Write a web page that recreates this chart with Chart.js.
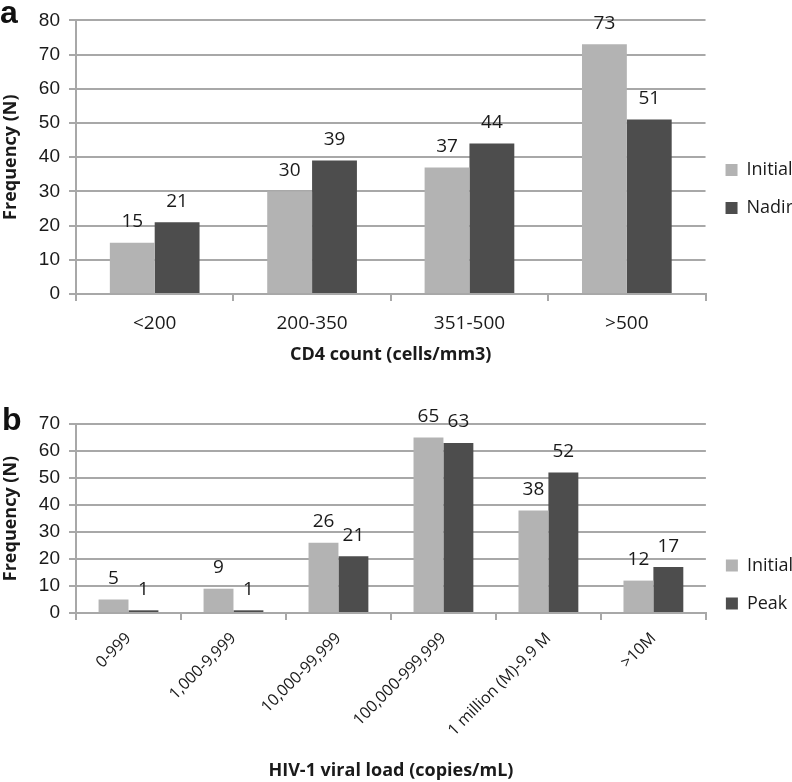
<!DOCTYPE html>
<html>
<head>
<meta charset="utf-8">
<script src="https://cdn.jsdelivr.net/npm/chart.js@4.4.1/dist/chart.umd.min.js"></script>
<style>
  html, body { margin: 0; padding: 0; background: #fff; overflow: hidden; width: 792px; height: 782px; }
  .panel { position: absolute; left: 0; }
  .tag { position: absolute; z-index: 2; font: bold 32px "Liberation Sans", Arial, sans-serif; color: #111; line-height: 32px; }
</style>
</head>
<body>
<canvas id="cd4Chart" class="panel" style="top:0" width="803" height="370"></canvas>
<canvas id="viralChart" class="panel" style="top:395px" width="803" height="387"></canvas>
<div class="tag" style="left:0;top:-4px">a</div>
<div class="tag" style="left:2px;top:403px">b</div>

<script>
// panel a - CD4 count
const cd4Labels = ["<200", "200-350", "351-500", ">500"];
const cd4Initial = [15, 30, 37, 73];
const cd4Nadir = [21, 39, 44, 51];

// panel b - viral load
const vlLabels = ["0-999", "1,000-9,999", "10,000-99,999", "100,000-999,999", "1 million (M)-9.9 M", ">10M"];
const vlInitial = [5, 9, 26, 65, 38, 12];
const vlPeak = [1, 1, 21, 63, 52, 17];

const LIGHT = "#b3b3b3";
const DARK = "#4d4d4d";
const GRID = "#a8a8a8";
const TEXT = "#1a1a1a";
const LABEL_FONT = "Open Sans";

// numbers above each bar
const valueLabels = {
    id: "valueLabels",
    afterDatasetsDraw(chart) {
        const ctx = chart.ctx;
        ctx.save();
        ctx.font = "19px '" + LABEL_FONT + "'";
        ctx.fillStyle = TEXT;
        ctx.textAlign = "center";
        ctx.textBaseline = "middle";
        chart.data.datasets.forEach((ds, i) => {
            chart.getDatasetMeta(i).data.forEach((bar, j) => {
                ctx.fillText(ds.data[j], bar.x, bar.y - 21);
            });
        });
        ctx.restore();
    }
};

function makeChart(id, cfg) {
    return new Chart(document.getElementById(id), {
        type: "bar",
        data: {
            labels: cfg.labels,
            datasets: [
                { label: "Initial", data: cfg.first, backgroundColor: LIGHT, borderWidth: 0 },
                { label: cfg.secondName, data: cfg.second, backgroundColor: DARK, borderWidth: 0 }
            ]
        },
        options: {
            responsive: false,
            animation: false,
            layout: { padding: cfg.padding },
            datasets: {
                bar: { categoryPercentage: 0.57, barPercentage: 1.0 }
            },
            plugins: {
                legend: {
                    position: "right",
                    labels: {
                        boxWidth: 12,
                        boxHeight: 12,
                        padding: 20,
                        color: TEXT,
                        font: { family: LABEL_FONT, size: 18 }
                    }
                },
                tooltip: { enabled: false }
            },
            scales: {
                x: {
                    afterFit: (scale) => { scale.height = cfg.xHeight; },
                    grid: {
                        offset: true,
                        drawOnChartArea: false,
                        tickLength: 7,
                        color: GRID,
                        lineWidth: 2
                    },
                    border: { display: true, color: GRID, width: 2 },
                    ticks: {
                        color: TEXT,
                        padding: cfg.tickPad,
                        autoSkip: false,
                        minRotation: cfg.rotation,
                        maxRotation: cfg.rotation,
                        font: { family: LABEL_FONT, size: cfg.tickSize }
                    },
                    title: {
                        display: true,
                        text: cfg.xTitle,
                        color: TEXT,
                        padding: { top: 0, bottom: cfg.titlePad },
                        font: { family: LABEL_FONT, size: 18, weight: "bold" }
                    }
                },
                y: {
                    min: 0,
                    max: cfg.yMax,
                    afterFit: (scale) => { scale.width = 76; },
                    ticks: {
                        stepSize: 10,
                        color: TEXT,
                        padding: 9,
                        font: { family: "Liberation Sans", size: 19 }
                    },
                    grid: {
                        color: GRID,
                        lineWidth: 2,
                        tickLength: 7
                    },
                    border: { display: true, color: GRID, width: 2 },
                    title: {
                        display: true,
                        text: "Frequency (N)",
                        color: TEXT,
                        padding: { top: 0, bottom: 0 },
                        font: { family: LABEL_FONT, size: 18, weight: "bold" }
                    }
                }
            }
        },
        plugins: [valueLabels]
    });
}

makeChart("cd4Chart", {
    labels: cd4Labels,
    first: cd4Initial,
    second: cd4Nadir,
    secondName: "Nadir",
    yMax: 80,
    xTitle: "CD4 count (cells/mm3)",
    padding: { top: 8, bottom: 0, left: 0, right: 0 },
    xHeight: 76,
    tickPad: 11,
    tickSize: 19,
    titlePad: 4,
    rotation: 0
});

makeChart("viralChart", {
    labels: vlLabels,
    first: vlInitial,
    second: vlPeak,
    secondName: "Peak",
    yMax: 70,
    xTitle: "HIV-1 viral load (copies/mL)",
    padding: { top: 29, bottom: 37, left: 0, right: 0 },
    xHeight: 132,
    tickPad: 9,
    tickSize: 16,
    titlePad: -37,
    rotation: 45
});
</script>
</body>
</html>
